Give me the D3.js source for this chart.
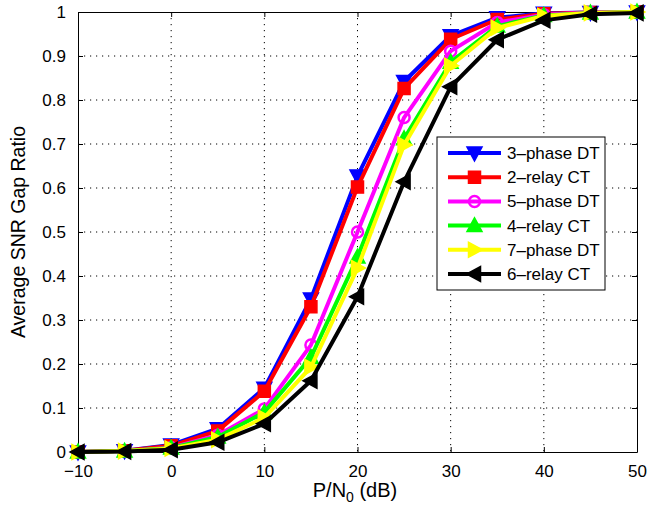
<!DOCTYPE html>
<html>
<head>
<meta charset="utf-8">
<script src="https://cdn.jsdelivr.net/npm/d3@7"></script>
<style>
  html, body { margin: 0; padding: 0; background: #fff; }
  svg { display: block; }
  text { font-family: "Liberation Sans", Arial, Helvetica, sans-serif; fill: #000; }
</style>
</head>
<body>
<svg id="chart" width="647" height="511"></svg>
<script>
// Transmit power to noise ratio (dB) at which each scheme was evaluated
const snrDb = [-10, -5, 0, 5, 10, 15, 20, 25, 30, 35, 40, 45, 50];

// Average SNR gap ratio per scheme
const phase3DT = [0, 0.003, 0.016, 0.053, 0.145, 0.348, 0.627, 0.842, 0.946, 0.987, 0.997, 0.999, 1];
const relay2CT = [0, 0.003, 0.014, 0.048, 0.138, 0.330, 0.602, 0.826, 0.938, 0.983, 0.996, 0.999, 1];
const phase5DT = [0, 0.002, 0.010, 0.038, 0.098, 0.243, 0.500, 0.760, 0.911, 0.976, 0.994, 0.999, 1];
const relay4CT = [0, 0.002, 0.009, 0.034, 0.090, 0.215, 0.443, 0.712, 0.886, 0.968, 0.992, 0.998, 1];
const phase7DT = [0, 0.002, 0.008, 0.028, 0.078, 0.193, 0.418, 0.698, 0.878, 0.964, 0.991, 0.998, 1];
const relay6CT = [0, 0.001, 0.005, 0.022, 0.064, 0.162, 0.353, 0.614, 0.830, 0.937, 0.981, 0.995, 0.998];

const seriesNames = ["3\u2013phase DT", "2\u2013relay CT", "5\u2013phase DT", "4\u2013relay CT", "7\u2013phase DT", "6\u2013relay CT"];
const seriesValues = [phase3DT, relay2CT, phase5DT, relay4CT, phase7DT, relay6CT];
const seriesColors = ["#0000ff", "#ff0000", "#ff00ff", "#00ff00", "#ffff00", "#000000"];
const seriesMarkers = ["triDown", "square", "circle", "triUp", "triRight", "triLeft"];

const xTicks = [-10, 0, 10, 20, 30, 40, 50];
const yTicks = [0, 0.1, 0.2, 0.3, 0.4, 0.5, 0.6, 0.7, 0.8, 0.9, 1];

const svg = d3.select("#chart");
const plotLeft = 78, plotRight = 637, plotTop = 12, plotBottom = 452;

const x = d3.scaleLinear().domain([-10, 50]).range([plotLeft, plotRight]);
const y = d3.scaleLinear().domain([0, 1]).range([plotBottom, plotTop]);

// dotted grid
const grid = svg.append("g").attr("stroke", "#000").attr("stroke-width", 1)
  .attr("stroke-dasharray", "1.2,4.8").attr("fill", "none");
xTicks.slice(1, -1).forEach(t => {
  grid.append("line").attr("x1", x(t)).attr("x2", x(t)).attr("y1", plotTop).attr("y2", plotBottom);
});
yTicks.slice(1, -1).forEach(t => {
  grid.append("line").attr("x1", plotLeft).attr("x2", plotRight).attr("y1", y(t)).attr("y2", y(t));
});

// axes with inward ticks
const fmtY = d => (d === 0 || d === 1) ? String(d) : d.toFixed(1);
const fmtX = d => d < 0 ? "\u2212" + Math.abs(d) : String(d);

const xAxisB = svg.append("g").attr("transform", `translate(0,${plotBottom})`)
  .call(d3.axisBottom(x).tickValues(xTicks).tickSizeInner(-5).tickSizeOuter(0).tickPadding(13).tickFormat(fmtX));
const xAxisT = svg.append("g").attr("transform", `translate(0,${plotTop})`)
  .call(d3.axisTop(x).tickValues(xTicks).tickSizeInner(-5).tickSizeOuter(0).tickFormat(""));
const yAxisL = svg.append("g").attr("transform", `translate(${plotLeft},0)`)
  .call(d3.axisLeft(y).tickValues(yTicks).tickSizeInner(-5).tickSizeOuter(0).tickPadding(12).tickFormat(fmtY));
const yAxisR = svg.append("g").attr("transform", `translate(${plotRight},0)`)
  .call(d3.axisRight(y).tickValues(yTicks).tickSizeInner(-5).tickSizeOuter(0).tickFormat(""));

[xAxisB, xAxisT, yAxisL, yAxisR].forEach(g => {
  g.select(".domain").attr("stroke", "#000").attr("stroke-width", 1);
  g.selectAll(".tick line").attr("stroke", "#000");
  g.selectAll("text").attr("font-size", 17).attr("font-family", "Liberation Sans, Arial, sans-serif").attr("fill", "#000");
});

// axis titles
const xl = svg.append("text").attr("x", 355).attr("y", 497).attr("text-anchor", "middle").attr("font-size", 20);
xl.append("tspan").text("P/N");
xl.append("tspan").attr("font-size", 14).attr("dy", 5).text("0");
xl.append("tspan").attr("dy", -5).text(" (dB)");

svg.append("text").attr("transform", `translate(25,${(plotTop + plotBottom) / 2}) rotate(-90)`)
  .attr("text-anchor", "middle").attr("font-size", 19.5).text("Average SNR Gap Ratio");

// marker shapes
function markerPath(kind, s) {
  const h = s / 2;
  switch (kind) {
    case "triDown": return `M${-h},${-h * 0.8}L${h},${-h * 0.8}L0,${h * 1.05}Z`;
    case "triUp": return `M${-h},${h * 0.8}L${h},${h * 0.8}L0,${-h * 1.05}Z`;
    case "triRight": return `M${-h * 0.8},${-h}L${-h * 0.8},${h}L${h * 1.05},0Z`;
    case "triLeft": return `M${h * 0.8},${-h}L${h * 0.8},${h}L${-h * 1.05},0Z`;
    case "square": return `M${-h * 0.8},${-h * 0.8}H${h * 0.8}V${h * 0.8}H${-h * 0.8}Z`;
  }
}

function drawMarker(g, kind, color, cx, cy) {
  if (kind === "circle") {
    g.append("circle").attr("cx", cx).attr("cy", cy).attr("r", 5.5)
      .attr("fill", "none").attr("stroke", color).attr("stroke-width", 2.5);
  } else {
    g.append("path").attr("d", markerPath(kind, 15)).attr("transform", `translate(${cx},${cy})`)
      .attr("fill", color).attr("stroke", color).attr("stroke-width", 1.5).attr("stroke-linejoin", "miter");
  }
}

const line = d3.line().x((d, i) => x(snrDb[i])).y(d => y(d));

seriesValues.forEach((vals, k) => {
  const g = svg.append("g");
  g.append("path").datum(vals).attr("d", line).attr("fill", "none")
    .attr("stroke", seriesColors[k]).attr("stroke-width", 4).attr("stroke-linejoin", "round");
  vals.forEach((v, i) => drawMarker(g, seriesMarkers[k], seriesColors[k], x(snrDb[i]), y(v)));
});

// legend
const lg = svg.append("g");
lg.append("rect").attr("x", 437).attr("y", 137).attr("width", 168).attr("height", 153)
  .attr("fill", "#fff").attr("stroke", "#000").attr("stroke-width", 1);
seriesNames.forEach((name, k) => {
  const cy = 153 + k * 24.2;
  lg.append("line").attr("x1", 448).attr("x2", 501).attr("y1", cy).attr("y2", cy)
    .attr("stroke", seriesColors[k]).attr("stroke-width", 4);
  drawMarker(lg, seriesMarkers[k], seriesColors[k], 474.5, cy);
  lg.append("text").attr("x", 507).attr("y", cy + 6).attr("font-size", 17).text(name);
});
</script>
</body>
</html>
